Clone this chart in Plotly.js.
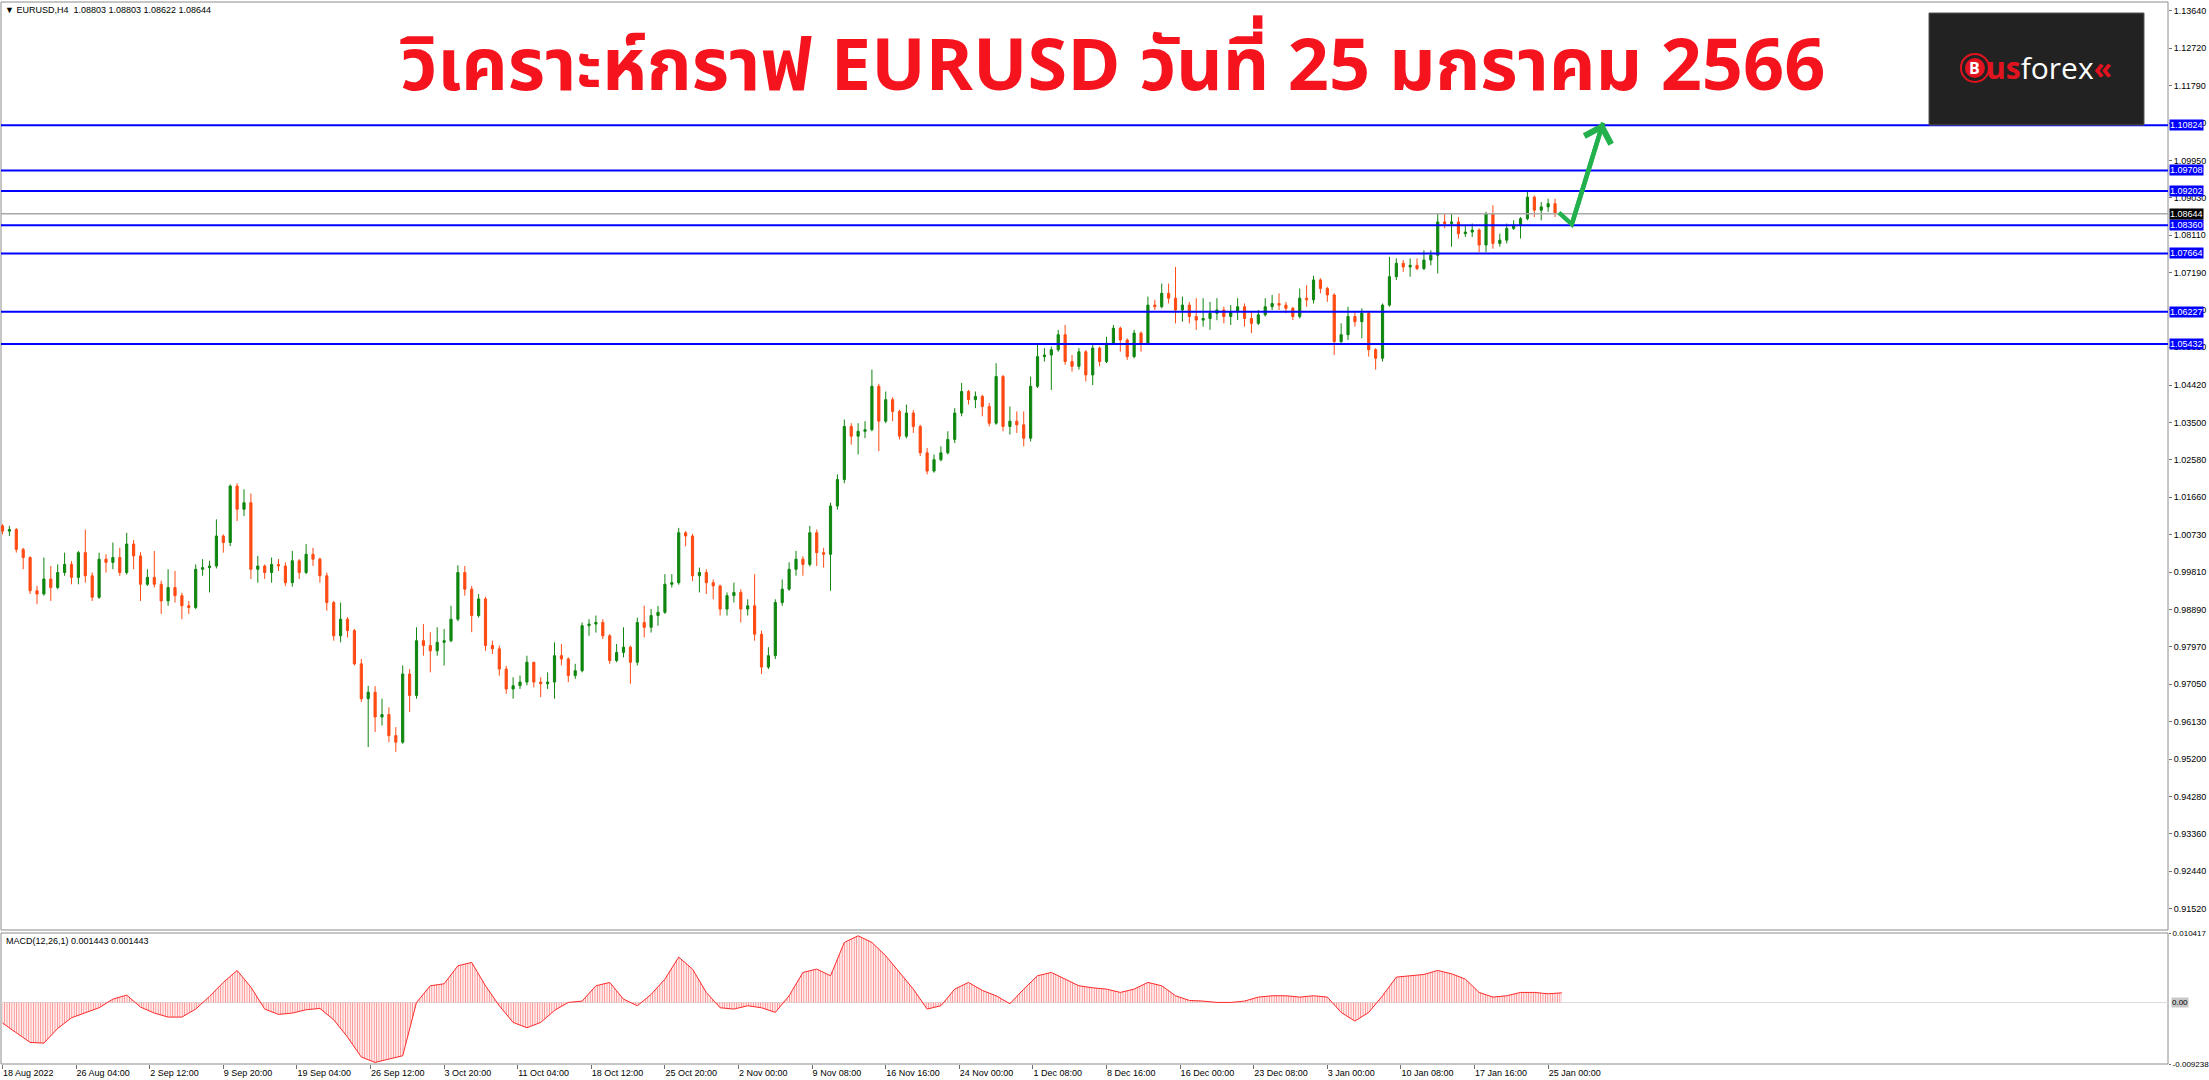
<!DOCTYPE html>
<html><head><meta charset="utf-8">
<script src="https://cdn.plot.ly/plotly-3.0.1.min.js"></script>
<style>html,body{margin:0;padding:0;background:#fff;overflow:hidden}#chart{width:2209px;height:1080px}</style>
</head><body><div id="chart"></div>
<script>
// ---------------- DATA (EURUSD H4, one candle drawn per 3 H4 bars) ----------------
const BARS_PER_CANDLE = 3;
const firstOpen = 1.0095;
const close = [
1.0082,1.0086,1.0037,1.0017,0.9935,0.9927,0.9964,0.9943,0.9980,1.0000,
0.9968,1.0029,0.9972,0.9919,1.0013,1.0005,1.0017,0.9980,1.0050,1.0021,
0.9951,0.9968,0.9951,0.9910,0.9943,0.9923,0.9898,0.9894,0.9988,0.9992,
0.9996,1.0070,1.0054,1.0193,1.0136,1.0152,0.9988,0.9996,0.9980,1.0000,
0.9996,0.9955,1.0009,0.9980,1.0025,1.0013,0.9972,0.9906,0.9824,0.9865,
0.9837,0.9755,0.9669,0.9685,0.9624,0.9630,0.9578,0.9562,0.9730,0.9677,
0.9812,0.9800,0.9787,0.9808,0.9812,0.9865,0.9980,0.9939,0.9874,0.9915,
0.9800,0.9792,0.9742,0.9693,0.9701,
0.9710,0.9759,0.9710,0.9706,0.9710,0.9775,0.9767,0.9726,0.9738,0.9849,
0.9853,0.9857,0.9824,0.9763,0.9783,0.9796,0.9759,0.9857,0.9845,0.9874,
0.9882,0.9951,0.9955,1.0078,1.0070,0.9972,0.9980,0.9955,0.9947,0.9890,
0.9923,0.9931,0.9890,0.9898,0.9828,0.9747,0.9775,0.9906,0.9939,0.9988,
1.0013,1.0000,1.0078,1.0029,1.0025,1.0144,1.0209,1.0340,1.0316,1.0328,
1.0332,1.0439,1.0353,1.0406,1.0377,1.0316,1.0373,1.0340,1.0275,1.0230,
1.0258,1.0275,1.0308,1.0373,1.0426,1.0406,1.0414,1.0389,1.0348,1.0463,
1.0340,1.0353,1.0344,1.0311,1.0439,
1.0512,1.0516,1.0529,1.0566,1.0500,1.0488,1.0524,1.0467,1.0533,1.0500,
1.0545,1.0582,1.0553,1.0512,1.0570,1.0545,1.0639,1.0635,1.0668,1.0656,
1.0627,1.0639,1.0611,1.0602,1.0606,1.0619,1.0627,1.0611,1.0623,1.0635,
1.0606,1.0594,1.0615,1.0635,1.0643,1.0639,1.0631,1.0611,1.0656,1.0652,
1.0701,1.0680,1.0664,1.0549,1.0566,1.0611,1.0598,1.0619,1.0529,1.0508,
1.0639,1.0709,1.0742,1.0733,1.0737,1.0729,1.0750,1.0762,1.0844,1.0840,
1.0844,1.0815,1.0819,1.0824,1.0787,1.0864,1.0791,1.0799,1.0828,1.0836,
1.0852,1.0905,1.0873,1.0881,1.0889,1.08644
];
const high = [
1.0099,1.0095,1.0090,1.0041,1.0020,0.9947,1.0017,0.9996,1.0000,1.0029,
1.0008,1.0033,1.0086,0.9980,1.0029,1.0025,1.0054,1.0041,1.0078,1.0060,
1.0030,0.9988,1.0033,0.9960,0.9988,0.9984,0.9930,0.9910,1.0000,1.0013,
1.0009,1.0111,1.0074,1.0197,1.0200,1.0185,1.0175,1.0021,1.0000,1.0017,
1.0013,1.0005,1.0033,1.0013,1.0050,1.0041,1.0017,0.9980,0.9910,0.9906,
0.9870,0.9841,0.9767,0.9701,0.9700,0.9669,0.9648,0.9599,0.9751,0.9742,
0.9845,0.9853,0.9833,0.9845,0.9841,0.9898,0.9998,0.9996,0.9947,0.9927,
0.9920,0.9812,0.9800,0.9750,0.9722,
0.9726,0.9775,0.9759,0.9722,0.9734,0.9808,0.9804,0.9771,0.9755,0.9857,
0.9865,0.9874,0.9865,0.9828,0.9804,0.9845,0.9800,0.9869,0.9898,0.9890,
0.9898,0.9976,0.9976,1.0090,1.0082,1.0075,0.9992,0.9988,0.9963,0.9950,
0.9931,0.9955,0.9939,0.9914,0.9976,0.9837,0.9796,0.9914,0.9963,1.0005,
1.0033,1.0020,1.0095,1.0086,1.0041,1.0152,1.0222,1.0357,1.0348,1.0348,
1.0353,1.0480,1.0445,1.0426,1.0412,1.0381,1.0394,1.0380,1.0344,1.0287,
1.0271,1.0291,1.0328,1.0385,1.0447,1.0430,1.0426,1.0418,1.0398,1.0496,
1.0467,1.0389,1.0377,1.0377,1.0463,
1.0545,1.0533,1.0537,1.0578,1.0590,1.0516,1.0533,1.0528,1.0545,1.0537,
1.0561,1.0590,1.0586,1.0557,1.0578,1.0574,1.0660,1.0652,1.0692,1.0692,
1.0733,1.0660,1.0647,1.0656,1.0656,1.0647,1.0656,1.0635,1.0639,1.0656,
1.0643,1.0623,1.0627,1.0656,1.0664,1.0668,1.0647,1.0635,1.0680,1.0688,
1.0711,1.0705,1.0684,1.0668,1.0594,1.0635,1.0623,1.0631,1.0623,1.0533,
1.0643,1.0758,1.0754,1.0750,1.0754,1.0754,1.0774,1.0774,1.0864,1.0864,
1.0864,1.0856,1.0836,1.0840,1.0828,1.0869,1.0885,1.0815,1.0840,1.0848,
1.0856,1.0918,1.0909,1.0893,1.0901,1.0901
];
const low = [
1.0074,1.0070,1.0029,0.9988,0.9927,0.9902,0.9923,0.9910,0.9939,0.9972,
0.9951,0.9951,0.9955,0.9910,0.9915,0.9980,0.9988,0.9972,0.9975,0.9988,
0.9910,0.9947,0.9943,0.9878,0.9898,0.9906,0.9865,0.9878,0.9890,0.9972,
0.9931,0.9990,1.0029,1.0045,1.0107,1.0119,0.9964,0.9955,0.9964,0.9955,
0.9984,0.9947,0.9945,0.9964,0.9976,0.9996,0.9955,0.9886,0.9812,0.9808,
0.9820,0.9751,0.9661,0.9550,0.9587,0.9603,0.9562,0.9538,0.9558,0.9636,
0.9669,0.9775,0.9734,0.9775,0.9751,0.9808,0.9860,0.9923,0.9833,0.9869,
0.9787,0.9779,0.9726,0.9681,0.9669,
0.9693,0.9702,0.9697,0.9673,0.9693,0.9669,0.9751,0.9710,0.9718,0.9734,
0.9824,0.9832,0.9816,0.9755,0.9759,0.9771,0.9706,0.9751,0.9820,0.9832,
0.9849,0.9878,0.9943,0.9950,1.0045,0.9959,0.9931,0.9927,0.9914,0.9874,
0.9874,0.9906,0.9857,0.9874,0.9812,0.9730,0.9742,0.9767,0.9898,0.9935,
0.9972,0.9972,0.9995,0.9996,0.9992,0.9935,1.0135,1.0200,1.0295,1.0271,
1.0311,1.0328,1.0279,1.0348,1.0353,1.0308,1.0311,1.0324,1.0267,1.0222,
1.0226,1.0254,1.0271,1.0299,1.0365,1.0394,1.0385,1.0365,1.0340,1.0344,
1.0328,1.0320,1.0324,1.0291,1.0303,
1.0435,1.0500,1.0430,1.0524,1.0492,1.0475,1.0480,1.0451,1.0442,1.0488,
1.0496,1.0541,1.0524,1.0504,1.0508,1.0524,1.0541,1.0627,1.0631,1.0643,
1.0594,1.0598,1.0594,1.0578,1.0586,1.0578,1.0602,1.0594,1.0590,1.0602,
1.0586,1.0570,1.0590,1.0611,1.0627,1.0627,1.0619,1.0602,1.0606,1.0635,
1.0643,1.0668,1.0647,1.0516,1.0541,1.0553,1.0586,1.0557,1.0512,1.0480,
1.0500,1.0635,1.0701,1.0721,1.0709,1.0725,1.0725,1.0737,1.0717,1.0828,
1.0783,1.0803,1.0807,1.0807,1.0770,1.0770,1.0778,1.0783,1.0791,1.0824,
1.0803,1.0848,1.0856,1.0848,1.0869,1.0856
];

// MACD(12,26,1), one value per 6 H4 bars
const MACD_STEP = 6;
const macd = [
-0.0031,-0.0045,-0.0060,-0.0061,-0.0039,-0.0023,-0.0016,-0.0008,0.0005,0.0011,
-0.0007,-0.0016,-0.0022,-0.0022,-0.0010,0.0009,0.0030,0.0048,0.0023,-0.0010,
-0.0018,-0.0016,-0.0011,-0.0009,-0.0026,-0.0052,-0.0082,-0.0090,-0.0085,-0.0080,
0.0000,0.0025,0.0028,0.0055,0.0060,0.0025,-0.0005,-0.0030,-0.0038,-0.0030,
-0.0012,0.0000,0.0002,0.0025,0.0030,0.0005,-0.0005,0.0012,0.0035,0.0068,
0.0050,0.0015,-0.0008,-0.0010,-0.0005,-0.0008,-0.0015,0.0010,0.0045,0.0050,
0.0040,0.0090,0.0100,0.0090,0.0070,0.0045,0.0020,-0.0010,-0.0005,0.0020,
0.0030,0.0018,0.0010,-0.0002,0.0020,0.0040,0.0045,0.0035,0.0025,0.0022,
0.0020,0.0015,0.0020,0.0030,0.0025,0.0010,0.0003,0.0002,0.0000,0.0000,
0.0002,0.0008,0.0010,0.0010,0.0008,0.0010,0.0008,-0.0015,-0.0028,-0.0015,
0.0010,0.0038,0.0040,0.0042,0.0048,0.0043,0.0035,0.0015,0.0008,0.0010,
0.0015,0.0015,0.0013,0.00144
];

const xTickLabels = ["18 Aug 2022","26 Aug 04:00","2 Sep 12:00","9 Sep 20:00","19 Sep 04:00","26 Sep 12:00",
"3 Oct 20:00","11 Oct 04:00","18 Oct 12:00","25 Oct 20:00","2 Nov 00:00","9 Nov 08:00","16 Nov 16:00",
"24 Nov 00:00","1 Dec 08:00","8 Dec 16:00","16 Dec 00:00","23 Dec 08:00","3 Jan 00:00","10 Jan 08:00",
"17 Jan 16:00","25 Jan 00:00"];
const BARS_PER_XTICK = 32;

const priceTicks = [1.13640,1.12720,1.11790,1.10870,1.09950,1.09030,1.08110,1.07190,1.06270,1.05350,
1.04420,1.03500,1.02580,1.01660,1.00730,0.99810,0.98890,0.97970,0.97050,0.96130,0.95200,0.94280,
0.93360,0.92440,0.91520];
const levels = [1.10824,1.09708,1.09202,1.08360,1.07664,1.06227,1.05432];
const lastPrice = 1.08644;
const macdMax = 0.010417, macdMin = -0.009238;
const headerText = "\u25BC EURUSD,H4  1.08803 1.08803 1.08622 1.08644";
const macdText = "MACD(12,26,1) 0.001443 0.001443";
const titleText = "วิเคราะห์กราฟ EURUSD วันที่ 25 มกราคม 2566";
// hand-drawn green arrow: [bar index, price]
const arrowPath = [[676.7,1.08667],[682.3,1.08381],[695.9,1.10888]];

// ---------------- BUILD ----------------
const open = close.map((c,i)=> i===0 ? firstOpen : close[i-1]);
const candleX = close.map((c,i)=> i*BARS_PER_CANDLE);
const macdX = macd.map((v,i)=> i*MACD_STEP);
const tickvals = xTickLabels.map((t,i)=> i*BARS_PER_XTICK);

const FAM = "Liberation Sans, Arial, sans-serif";
const AXFONT = {family:FAM, size:9, color:"#000"};
const MACDFONT = {family:FAM, size:8, color:"#000"};
const MAIN_DOM = [0.12618, 1];
const MACD_DOM = [0, 0.12335];

const traces = [
  {type:'candlestick', x:candleX, open:open, high:high, low:low, close:close,
   xaxis:'x', yaxis:'y', whiskerwidth:0, hoverinfo:'skip',
   increasing:{line:{color:'#0f860f', width:1}, fillcolor:'#0f860f'},
   decreasing:{line:{color:'#ff4a12', width:1}, fillcolor:'#ff4a12'}},
  {type:'scatter', mode:'lines', x:macdX, y:macd, xaxis:'x', yaxis:'y2', hoverinfo:'skip',
   line:{color:'#ff2a2a', width:1}, fill:'tozeroy', fillcolor:'rgba(255,255,255,0)',
   fillpattern:{shape:'|', size:2.4, solidity:0.45, fgcolor:'#ff8f8f', bgcolor:'rgba(255,255,255,0)'}}
];

const shapes = [];
shapes.push({type:'rect', xref:'paper', yref:'paper', x0:0, x1:1, y0:MAIN_DOM[0], y1:MAIN_DOM[1], line:{color:'#8c8c8c', width:1}, layer:'below'});
shapes.push({type:'rect', xref:'paper', yref:'paper', x0:0, x1:1, y0:MACD_DOM[0], y1:MACD_DOM[1], line:{color:'#8c8c8c', width:1}, layer:'below'});
shapes.push({type:'line', xref:'paper', x0:0, x1:1, yref:'y', y0:lastPrice, y1:lastPrice, line:{color:'#a8a8a8', width:1.5}});
levels.forEach(v=> shapes.push({type:'line', xref:'paper', x0:0, x1:1, yref:'y', y0:v, y1:v, line:{color:'#0000ff', width:2}}));
shapes.push({type:'path', xref:'x', yref:'y',
  path: 'M' + arrowPath.map(p=> p[0]+','+p[1]).join(' L'),
  line:{color:'#22b14c', width:4.5}});
// logo
shapes.push({type:'rect', xref:'paper', yref:'paper', x0:0.88971, x1:0.98892, y0:0.88418, y1:0.98964,
  fillcolor:'#222222', line:{color:'#555', width:1}});
shapes.push({type:'circle', xref:'paper', yref:'paper', xsizemode:'pixel', ysizemode:'pixel',
  xanchor:0.9109, yanchor:0.9379, x0:-14, x1:14, y0:-14, y1:14, line:{color:'#e0131f', width:2}, fillcolor:'rgba(0,0,0,0)'});
shapes.push({type:'circle', xref:'paper', yref:'paper', xsizemode:'pixel', ysizemode:'pixel',
  xanchor:0.9109, yanchor:0.9379, x0:-10, x1:10, y0:-10, y1:10, line:{width:0}, fillcolor:'#e0131f'});

const annotations = [];
levels.forEach(v=> annotations.push({xref:'paper', x:1, xanchor:'left', xshift:1, yref:'y', y:v, yanchor:'middle',
  text:v.toFixed(5), showarrow:false, bgcolor:'#0000ff', borderpad:0, font:{family:FAM, size:9, color:'#fff'}}));
annotations.push({xref:'paper', x:1, xanchor:'left', xshift:1, yref:'y', y:lastPrice, yanchor:'middle',
  text:lastPrice.toFixed(5), showarrow:false, bgcolor:'#000', borderpad:0, font:{family:FAM, size:9, color:'#fff'}});
annotations.push({xref:'paper', x:1, xanchor:'left', xshift:3, yref:'y2', y:0, yanchor:'middle',
  text:'0.00', showarrow:false, bgcolor:'#c8c8c8', borderpad:0, font:MACDFONT});
annotations.push({xref:'paper', yref:'paper', x:0, y:1, xanchor:'left', yanchor:'top', xshift:2, yshift:-1,
  text:headerText, showarrow:false, font:{family:FAM, size:9, color:'#000'}});
annotations.push({xref:'paper', yref:'paper', x:0, y:MACD_DOM[1], xanchor:'left', yanchor:'top', xshift:3, yshift:-1,
  text:macdText, showarrow:false, font:{family:FAM, size:9, color:'#000'}});
annotations.push({xref:'paper', yref:'paper', x:0.5131, y:0.938, xanchor:'center', yanchor:'middle',
  text:'<b>'+titleText+'</b>', showarrow:false,
  font:{family:"Noto Sans Thai, Kanit, Prompt, Noto Sans, sans-serif", size:72, color:'#f5141e'}});
annotations.push({xref:'paper', yref:'paper', x:0.9109, y:0.9379, xanchor:'center', yanchor:'middle',
  text:'<b>B</b>', showarrow:false, font:{family:"Open Sans, sans-serif", size:16, color:'#fff'}});
annotations.push({xref:'paper', yref:'paper', x:0.9151, y:0.9379, xanchor:'left', yanchor:'middle',
  text:'<b><span style="color:#e0131f">us</span></b>forex<b><span style="color:#e0131f">«</span></b>', showarrow:false,
  font:{family:"Open Sans, sans-serif", size:30, color:'#ffffff'}});
annotations.push({xref:'x', yref:'y', axref:'x', ayref:'y', x:arrowPath[2][0], y:arrowPath[2][1],
  ax:arrowPath[1][0], ay:arrowPath[1][1], showarrow:true, arrowhead:4, arrowsize:1.2, arrowwidth:4.5,
  arrowcolor:'#22b14c', text:''});

const layout = {
  width:2209, height:1080, margin:{l:1, r:41, t:2, b:16},
  paper_bgcolor:'#fff', plot_bgcolor:'#fff', showlegend:false, boxgap:0.55,
  xaxis:{range:[-0.65, 941.5], anchor:'y2', tickvals:tickvals, ticktext:xTickLabels,
    ticks:'outside', ticklen:4, tickcolor:'#707070', ticklabelposition:'outside right',
    showgrid:false, zeroline:false, showline:false, rangeslider:{visible:false}, tickfont:AXFONT, fixedrange:true},
  yaxis:{domain:MAIN_DOM, range:[0.90991, 1.13859], side:'right', tickvals:priceTicks,
    ticktext:priceTicks.map(v=>v.toFixed(5)), ticks:'outside', ticklen:3, tickcolor:'#707070',
    showgrid:false, zeroline:false, showline:false, tickfont:AXFONT, fixedrange:true},
  yaxis2:{domain:MACD_DOM, range:[macdMin, macdMax], side:'right', tickvals:[macdMax, macdMin],
    ticktext:[macdMax.toFixed(6), macdMin.toFixed(6)], ticks:'outside', ticklen:2, tickcolor:'#707070',
    showgrid:false, zeroline:true, zerolinecolor:'#dcdcdc', zerolinewidth:1, showline:false, tickfont:MACDFONT, fixedrange:true},
  shapes:shapes, annotations:annotations
};

Plotly.newPlot('chart', traces, layout, {displayModeBar:false, staticPlot:true});
</script></body></html>
